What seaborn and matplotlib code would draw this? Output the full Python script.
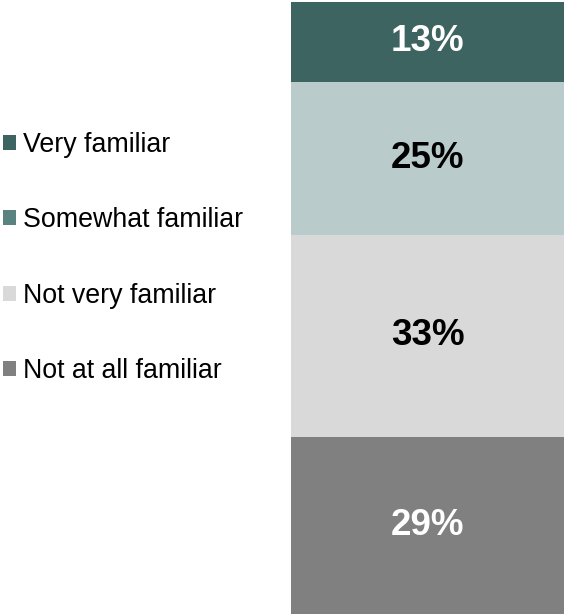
import matplotlib
matplotlib.use("Agg")
import matplotlib.pyplot as plt
from matplotlib.patches import Patch
import seaborn as sns
import pandas as pd

sns.set_theme(style="white")
plt.rcParams["font.family"] = ["Liberation Sans", "DejaVu Sans"]

# Familiarity shares, listed from the top of the stack downward
categories = ["Very familiar", "Somewhat familiar", "Not very familiar", "Not at all familiar"]
shares = [13, 25, 33, 29]
bar_colors = ["#3d6461", "#bacbcb", "#d9d9d9", "#808080"]
legend_colors = ["#3d6461", "#5a8281", "#d9d9d9", "#808080"]
label_colors = ["white", "black", "black", "white"]

df = pd.DataFrame({"group": ["All"] * len(categories), "category": categories, "share": shares})

fig = plt.figure(figsize=(5.64, 6.14), dpi=100)
ax = fig.add_axes([291 / 564, 0, 1 - 291 / 564, 612 / 614])

# Stack from the bottom segment upward
bottom = 0
for i in reversed(range(len(categories))):
    row = df.iloc[[i]]
    sns.barplot(data=row, x="group", y="share", color=bar_colors[i], width=1.0,
                bottom=bottom, saturation=1, ax=ax, linewidth=0)
    ax.text(0, bottom + shares[i] / 2, f"{shares[i]}%", ha="center", va="center",
            fontsize=26.5, fontweight="bold", color=label_colors[i])
    bottom += shares[i]

ax.set_xlim(-0.5, 0.5)
ax.set_ylim(0, 100)
ax.set_axis_off()

handles = [Patch(facecolor=c, edgecolor="none") for c in legend_colors]
fig.legend(handles, categories, loc="center left", bbox_to_anchor=(3 / 564, 1 - 258 / 614),
           frameon=False, fontsize=19.3, labelcolor="black", handlelength=0.49, handleheight=0.49,
           handletextpad=0.25, labelspacing=1.85, borderpad=0, borderaxespad=0)

fig.savefig("out.png", dpi=100)
